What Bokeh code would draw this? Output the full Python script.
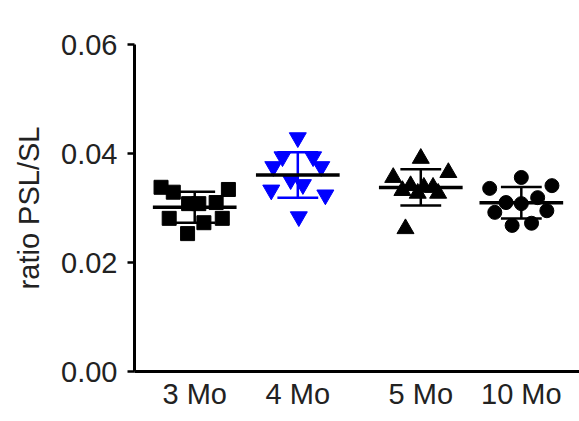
import numpy as np
from bokeh.plotting import figure
from bokeh.models import Range1d, FixedTicker
from bokeh.embed import file_html
from bokeh.resources import INLINE

# ---- data ----
groups = ["3 Mo", "4 Mo", "5 Mo", "10 Mo"]
group_pos = [1.0, 2.01, 3.215, 4.2]
colors = ["black", "#0000ff", "black", "black"]
markers = ["square", "inverted_triangle", "triangle", "circle"]
marker_sizes = [14, 17, 17, 14]

vals_3mo = [0.0338, 0.0329, 0.0334, 0.0308, 0.0308, 0.0310, 0.0281, 0.0273, 0.0281, 0.0253]
jit_3mo = [-0.33, -0.21, 0.33, -0.06, 0.04, 0.21, -0.25, 0.09, 0.27, -0.07]
vals_4mo = [0.0429, 0.0394, 0.0376, 0.0394, 0.0376, 0.0352, 0.0343, 0.0333, 0.0324, 0.0284]
jit_4mo = [0.0, -0.15, -0.24, 0.15, 0.23, -0.07, 0.05, -0.26, 0.27, 0.01]
vals_5mo = [0.0391, 0.0356, 0.0365, 0.0341, 0.0338, 0.0338, 0.0332, 0.0327, 0.0327, 0.0262]
jit_5mo = [0.0, -0.27, 0.27, -0.10, 0.03, 0.12, -0.18, -0.03, 0.17, -0.15]
vals_10mo = [0.0356, 0.0336, 0.0341, 0.0319, 0.0310, 0.0308, 0.0292, 0.0295, 0.0268, 0.0272]
jit_10mo = [0.0, -0.31, 0.30, 0.16, -0.15, 0.0, -0.26, 0.25, -0.09, 0.10]

y_ticks = [0.0, 0.02, 0.04, 0.06]
y_tick_labels = ["0.00", "0.02", "0.04", "0.06"]

all_vals = [vals_3mo, vals_4mo, vals_5mo, vals_10mo]
all_jit = [jit_3mo, jit_4mo, jit_5mo, jit_10mo]

# ---- figure ----
p = figure(width=579, height=413, output_backend="svg", toolbar_location=None,
           x_range=Range1d(0.41, 4.77), y_range=Range1d(0.0, 0.06),
           min_border_left=134, min_border_top=44, min_border_bottom=42,
           min_border_right=0)
p.outline_line_color = None
p.xgrid.visible = False
p.ygrid.visible = False
p.background_fill_color = "white"
p.border_fill_color = "white"

font = "Liberation Sans"
fs = "29px"
# y axis
p.yaxis.ticker = FixedTicker(ticks=y_ticks)
p.yaxis.major_label_overrides = {t: l for t, l in zip(y_ticks, y_tick_labels)}
p.yaxis.minor_tick_line_color = None
p.yaxis.major_tick_in = 0
p.yaxis.major_tick_out = 7
p.yaxis.major_tick_line_width = 2.5
p.yaxis.axis_line_width = 3
p.yaxis.major_label_text_font = font
p.yaxis.major_label_text_font_size = fs
p.yaxis.major_label_text_color = "#222222"
p.yaxis.major_label_standoff = 10
p.yaxis.axis_label = "ratio PSL/SL"
p.yaxis.axis_label_text_font = font
p.yaxis.axis_label_text_font_size = fs
p.yaxis.axis_label_text_font_style = "normal"
p.yaxis.axis_label_text_color = "#222222"
p.yaxis.axis_label_standoff = 13

# x axis
p.xaxis.ticker = FixedTicker(ticks=group_pos)
p.xaxis.major_label_overrides = {t: g for t, g in zip(group_pos, groups)}
p.xaxis.minor_tick_line_color = None
p.xaxis.major_tick_in = 0
p.xaxis.major_tick_out = 0
p.xaxis.axis_line_width = 3
p.xaxis.major_label_text_font = font
p.xaxis.major_label_text_font_size = fs
p.xaxis.major_label_text_color = "#222222"
p.xaxis.major_label_standoff = 6

for pos, vals, jit, col, mk, sz in zip(group_pos, all_vals, all_jit, colors, markers, marker_sizes):
    xs = [pos + j for j in jit]
    p.scatter(xs, vals, marker=mk, size=sz, fill_color=col, line_color=col, line_width=1)
    m = float(np.mean(vals))
    sd = float(np.std(vals, ddof=1))
    # SD whisker
    p.segment(x0=[pos, pos - 0.2, pos - 0.2], y0=[m - sd, m + sd, m - sd],
              x1=[pos, pos + 0.2, pos + 0.2], y1=[m + sd, m + sd, m - sd],
              line_color=col, line_width=2.5)
    # mean line
    p.segment(x0=[pos - 0.41], y0=[m], x1=[pos + 0.41], y1=[m],
              line_color="black", line_width=3.5)

open("out.html", "w").write(file_html(p, INLINE))
